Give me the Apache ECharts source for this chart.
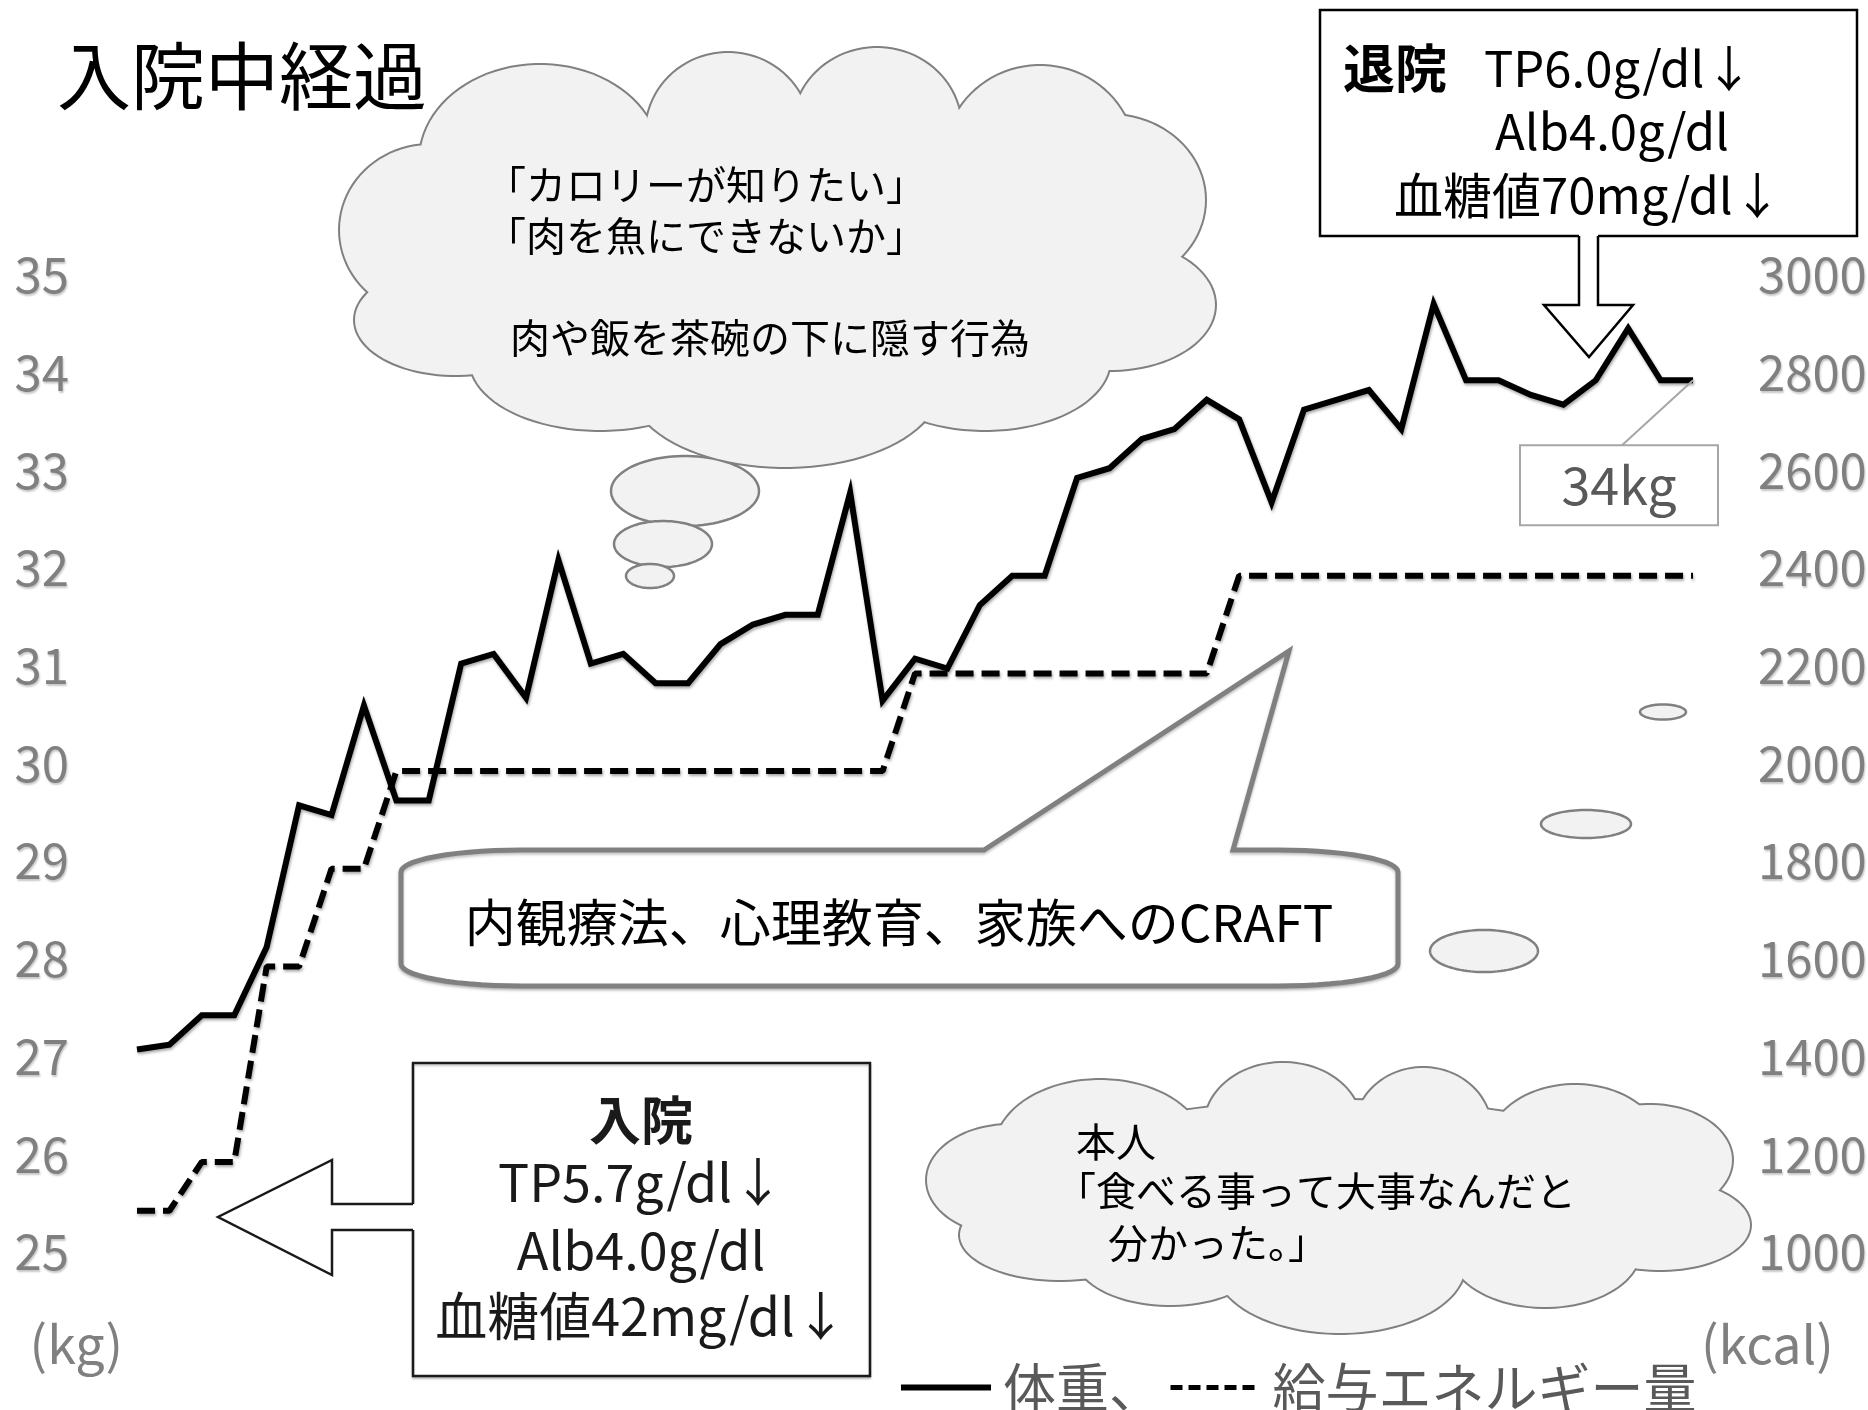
<!DOCTYPE html>
<html>
<head>
<meta charset="utf-8">
<script src="https://cdn.jsdelivr.net/npm/echarts@6/dist/echarts.min.js"></script>
<style>
html,body{margin:0;padding:0;background:#fff;}
#c{width:1868px;height:1410px;}
</style>
</head>
<body>
<div id="c"></div>
<script>
// ---------- data ----------
const titleText = '入院中経過';
const categories = ['1','2','3','4','5','6','7','8','9','10','11','12','13','14','15','16','17','18','19','20',
  '21','22','23','24','25','26','27','28','29','30','31','32','33','34','35','36','37','38','39','40',
  '41','42','43','44','45','46','47','48','49'];
const weightKg = [27.15, 27.20, 27.50, 27.50, 28.20, 29.65, 29.55, 30.67, 29.70, 29.70,
  31.10, 31.20, 30.75, 32.16, 31.10, 31.20, 30.90, 30.90, 31.30, 31.50,
  31.60, 31.60, 32.85, 30.72, 31.15, 31.05, 31.70, 32.00, 32.00, 33.00,
  33.10, 33.40, 33.50, 33.80, 33.60, 32.75, 33.70, 33.80, 33.90, 33.50,
  34.78, 34.00, 34.00, 33.85, 33.75, 34.00, 34.53, 34.00, 34.00];
const energyKcal = [1100, 1100, 1200, 1200, 1600, 1600, 1800, 1800,
  2000, 2000, 2000, 2000, 2000, 2000, 2000, 2000, 2000, 2000, 2000, 2000, 2000, 2000, 2000, 2000,
  2200, 2200, 2200, 2200, 2200, 2200, 2200, 2200, 2200, 2200,
  2400, 2400, 2400, 2400, 2400, 2400, 2400, 2400, 2400, 2400, 2400, 2400, 2400, 2400, 2400];
const kgAxis = {min: 25, max: 35, interval: 1, unit: '(kg)'};
const kcalAxis = {min: 1000, max: 3000, interval: 200, unit: '(kcal)'};
const seriesNames = ['体重', '給与エネルギー量'];

const admitText = ['入院', 'TP5.7g/dl↓', 'Alb4.0g/dl', '血糖値42mg/dl↓'];
const dischargeText = ['退院', 'TP6.0g/dl↓', 'Alb4.0g/dl', '血糖値70mg/dl↓'];
const cloudTopText = ['「カロリーが知りたい」', '「肉を魚にできないか」', '肉や飯を茶碗の下に隠す行為'];
const cloudBottomText = ['本人', '「食べる事って大事なんだと', '分かった。」'];
const calloutText = '内観療法、心理教育、家族へのCRAFT';

// ---------- chart ----------
const JP = '"Noto Sans CJK JP", "Noto Sans", sans-serif';
const GRAY = '#808080';
const chart = echarts.init(document.getElementById('c'), null, {renderer: 'canvas'});

const lineShadow = {shadowColor: 'rgba(0,0,0,0.35)', shadowBlur: 3, shadowOffsetX: 1, shadowOffsetY: 2};
const labelCommon = {fontSize: 49, color: GRAY, fontFamily: JP, verticalAlign: 'bottom', lineHeight: 16,
  formatter: v => String(v),
  textShadowColor: 'rgba(0,0,0,0.22)', textShadowBlur: 2, textShadowOffsetX: 1, textShadowOffsetY: 2};

chart.setOption({
  backgroundColor: '#ffffff',
  animation: false,
  title: {text: titleText, left: 52, top: 34,
    textStyle: {fontFamily: JP, fontSize: 74, fontWeight: 'normal', color: '#000'}},
  legend: {
    left: 893, top: 1356, itemWidth: 90, itemHeight: 20, itemGap: 6, selectedMode: false,
    formatter: n => n === seriesNames[0] ? n + '、' : n,
    textStyle: {fontFamily: JP, fontSize: 53, color: '#595959', padding: [0, 0, 0, 7]},
    itemStyle: {color: 'rgba(0,0,0,0)', opacity: 0, borderWidth: 0},
    lineStyle: {width: 6, color: '#000'},
    data: [
      {name: seriesNames[0], lineStyle: {width: 6}},
      {name: seriesNames[1], lineStyle: {width: 5, type: [12, 6]}}
    ]
  },
  grid: {left: 137, right: 175, top: 282.6, bottom: 150.4, containLabel: false, outerBoundsMode: 'none'},
  xAxis: {type: 'category', data: categories, boundaryGap: false, show: false},
  yAxis: [
    {type: 'value', position: 'left', min: kgAxis.min, max: kgAxis.max, interval: kgAxis.interval,
      axisLine: {show: false}, axisTick: {show: false}, splitLine: {show: false},
      axisLabel: Object.assign({margin: 68}, labelCommon),
      name: kgAxis.unit, nameLocation: 'start', nameGap: 59,
      nameTextStyle: {fontFamily: JP, fontSize: 52, color: GRAY, align: 'right', padding: [0, 14, 0, 0]}},
    {type: 'value', position: 'right', min: kcalAxis.min, max: kcalAxis.max, interval: kcalAxis.interval,
      axisLine: {show: false}, axisTick: {show: false}, splitLine: {show: false},
      axisLabel: Object.assign({margin: 65}, labelCommon),
      name: kcalAxis.unit, nameLocation: 'start', nameGap: 59,
      nameTextStyle: {fontFamily: JP, fontSize: 52, color: GRAY, align: 'left', padding: [0, 0, 0, 8]}}
  ],
  series: [
    {name: seriesNames[0], type: 'line', yAxisIndex: 0, data: weightKg, symbol: 'none', z: 4, color: '#000',
      lineStyle: Object.assign({color: '#000', width: 6, join: 'miter', miterLimit: 10}, lineShadow)},
    {name: seriesNames[1], type: 'line', yAxisIndex: 1, data: energyKcal, symbol: 'none', z: 3, color: '#000',
      lineStyle: Object.assign({color: '#000', width: 6, type: [18, 8]}, lineShadow)}
  ]
});

// ---------- annotations ----------
function ellipsePts(cx, cy, rx, ry, n) {
  n = n || 90; const p = [];
  for (let i = 0; i < n; i++) { const a = 2 * Math.PI * i / n; p.push([cx + rx * Math.cos(a), cy + ry * Math.sin(a)]); }
  return p;
}
function cloud(lobes, z) {
  const els = [];
  lobes.forEach(l => els.push({type: 'polygon', z: z, silent: true, shape: {points: ellipsePts(l[0], l[1], l[2], l[3])},
    style: {fill: '#f2f2f2', stroke: '#808080', lineWidth: 4}}));
  lobes.forEach(l => els.push({type: 'polygon', z: z + 1, silent: true, shape: {points: ellipsePts(l[0], l[1], l[2], l[3])},
    style: {fill: '#f2f2f2', stroke: null, lineWidth: 0}}));
  return els;
}
function bubble(cx, cy, rx, ry, z) {
  return {type: 'polygon', z: z, silent: true, shape: {points: ellipsePts(cx, cy, rx, ry)},
    style: {fill: '#f2f2f2', stroke: '#808080', lineWidth: 2.5}};
}
function txt(x, y, s, size, opts) {
  opts = opts || {};
  return {type: 'text', x: x, y: y, z: opts.z || 30, silent: true,
    style: {text: s, fill: opts.fill || '#000', fontSize: size, fontFamily: JP, fontWeight: opts.bold ? 'bold' : 'normal',
      align: opts.align || 'left', verticalAlign: 'middle', textAlign: opts.align || 'left', textVerticalAlign: 'middle'}};
}
function quarter(cx, cy, rx, ry, a0, a1, out) {
  const n = 14;
  for (let i = 0; i <= n; i++) { const a = (a0 + (a1 - a0) * i / n) * Math.PI / 180; out.push([cx + rx * Math.cos(a), cy + ry * Math.sin(a)]); }
}

const G = [];
// top thought cloud
G.push(...cloud([
  [778, 270, 370, 150],
  [540, 160, 120, 95], [728, 133, 82, 80], [877, 128, 84, 80], [1040, 158, 95, 92],
  [430, 230, 90, 85], [455, 320, 100, 55],
  [600, 360, 130, 70], [785, 385, 155, 82], [985, 360, 125, 70],
  [1110, 200, 95, 85], [1110, 305, 105, 65]
], 20));
G.push(bubble(685, 491, 74, 35, 20), bubble(663, 544, 49, 23, 21), bubble(650, 576, 24, 12, 22));
G.push(txt(486, 185, cloudTopText[0], 40), txt(486, 236, cloudTopText[1], 40), txt(510, 338, cloudTopText[2], 40));

// bottom cloud
G.push(...cloud([
  [1340, 1190, 330, 90],
  [1100, 1150, 105, 70], [1283, 1125, 78, 62], [1423, 1130, 68, 62], [1575, 1150, 88, 65],
  [1650, 1160, 82, 55], [1660, 1225, 90, 45],
  [1545, 1250, 95, 57], [1340, 1265, 125, 68], [1170, 1255, 95, 50],
  [1010, 1180, 83, 55], [1060, 1235, 100, 45]
], 20));
G.push(bubble(1663, 712, 23, 7.5, 20), bubble(1586, 824, 45, 14, 20), bubble(1484, 951, 54, 21, 20));
G.push(txt(1076, 1142, cloudBottomText[0], 40), txt(1056, 1191, cloudBottomText[1], 40), txt(1108, 1243, cloudBottomText[2], 40));

// CRAFT callout
(function () {
  const L = 401, R = 1398, T = 850, B = 986, rx = 120, ry = 22;
  const pts = [];
  quarter(L + rx, T + ry, rx, ry, 180, 270, pts);
  pts.push([984, T], [1289, 651], [1233, T]);
  quarter(R - rx, T + ry, rx, ry, 270, 360, pts);
  quarter(R - rx, B - ry, rx, ry, 0, 90, pts);
  quarter(L + rx, B - ry, rx, ry, 90, 180, pts);
  G.push({type: 'polygon', z: 24, silent: true, shape: {points: pts},
    style: {fill: '#fff', stroke: '#808080', lineWidth: 5, shadowColor: 'rgba(0,0,0,0.25)', shadowBlur: 3, shadowOffsetY: 2}});
  G.push(txt(899, 923, calloutText, 51, {align: 'center'}));
})();

// discharge box + down arrow
G.push({type: 'rect', z: 24, silent: true, shape: {x: 1320, y: 10, width: 537, height: 226},
  style: {fill: '#fff', stroke: '#000', lineWidth: 2.5}});
G.push({type: 'polygon', z: 25, silent: true,
  shape: {points: [[1579, 233], [1598, 233], [1598, 305], [1633, 305], [1589, 357], [1544, 305], [1579, 305]]},
  style: {fill: '#fff', stroke: null}});
G.push({type: 'polyline', z: 26, silent: true,
  shape: {points: [[1579, 236], [1579, 305], [1544, 305], [1589, 357], [1633, 305], [1598, 305], [1598, 236]]},
  style: {fill: null, stroke: '#000', lineWidth: 2.5}});
G.push(txt(1343, 68, dischargeText[0], 52, {bold: true}));
G.push(txt(1484, 68, dischargeText[1], 49));
G.push(txt(1495, 131, dischargeText[2], 49));
G.push(txt(1394, 195, dischargeText[3], 49));

// admission box + left arrow
G.push({type: 'rect', z: 24, silent: true, shape: {x: 413, y: 1063, width: 457, height: 313},
  style: {fill: '#fff', stroke: '#1a1a1a', lineWidth: 2.5, shadowColor: 'rgba(0,0,0,0.2)', shadowBlur: 2, shadowOffsetY: 2}});
G.push({type: 'polygon', z: 25, silent: true,
  shape: {points: [[416, 1204], [332, 1204], [332, 1160], [218, 1217], [332, 1275], [332, 1230], [416, 1230]]},
  style: {fill: '#fff', stroke: null}});
G.push({type: 'polyline', z: 26, silent: true,
  shape: {points: [[413, 1204], [332, 1204], [332, 1160], [218, 1217], [332, 1275], [332, 1230], [413, 1230]]},
  style: {fill: null, stroke: '#1a1a1a', lineWidth: 2.5}});
G.push(txt(641, 1120, admitText[0], 52, {bold: true, align: 'center', fill: '#1a1a1a'}));
G.push(txt(641, 1182, admitText[1], 52, {align: 'center', fill: '#1a1a1a'}));
G.push(txt(641, 1250, admitText[2], 52, {align: 'center', fill: '#1a1a1a'}));
G.push(txt(641, 1316, admitText[3], 52, {align: 'center', fill: '#1a1a1a'}));

// final weight label tied to last data point
(function () {
  const i = weightKg.length - 1;
  const p = chart.convertToPixel({xAxisIndex: 0, yAxisIndex: 0}, [i, weightKg[i]]);
  const bx = p[0] - 173, by = p[1] + 65, bw = 198, bh = 80;
  G.push({type: 'line', z: 27, silent: true, shape: {x1: p[0], y1: p[1], x2: p[0] - 71, y2: by},
    style: {stroke: '#a6a6a6', lineWidth: 2}});
  G.push({type: 'rect', z: 27, silent: true, shape: {x: bx, y: by, width: bw, height: bh},
    style: {fill: '#fff', stroke: '#a6a6a6', lineWidth: 2}});
  G.push(txt(bx + bw / 2, by + bh / 2, String(weightKg[i]) + 'kg', 52, {align: 'center', fill: '#595959', z: 28}));
})();

chart.setOption({graphic: {elements: G}});
</script>
</body>
</html>
